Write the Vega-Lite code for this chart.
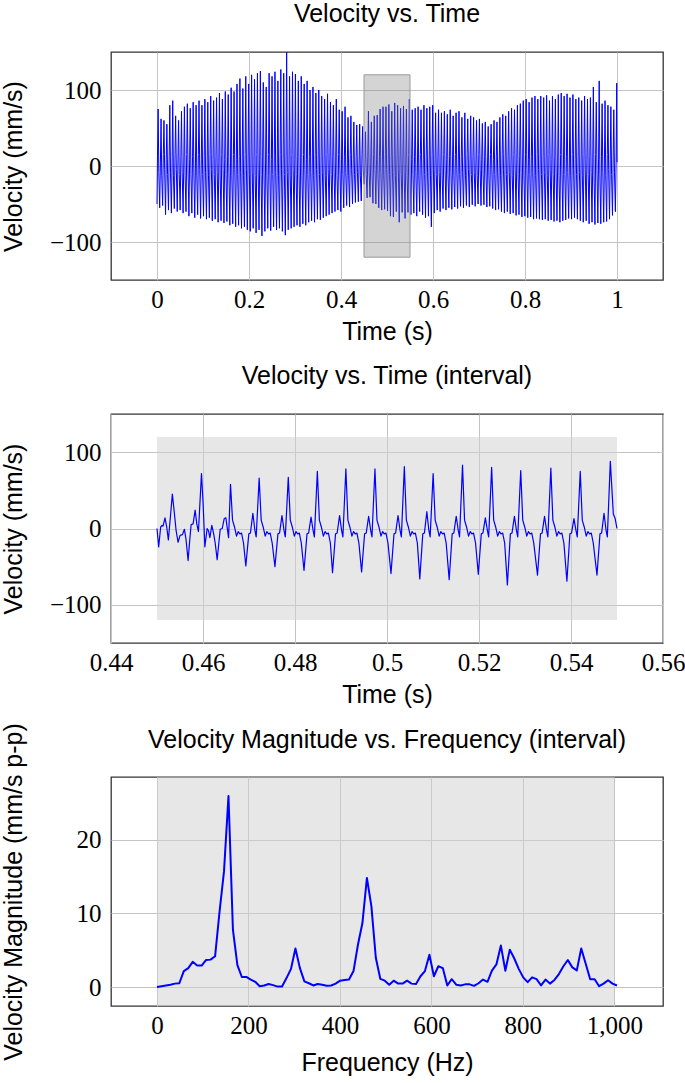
{
"$schema": "https://vega.github.io/schema/vega-lite/v6.json",
"background": "white",
"padding": {"top": 0, "left": 0, "right": 0, "bottom": 0},
"spacing": 134,
"bounds": "flush",
"datasets": {
"full": [{"t":0,"v":-50},{"t":0.00105,"v":12},{"t":0.00245,"v":75},{"t":0.00395,"v":-9},
{"t":0.0059,"v":-55},{"t":0.0074,"v":4},{"t":0.0088,"v":62},{"t":0.0103,"v":-13},
{"t":0.01225,"v":-52},{"t":0.01375,"v":15},{"t":0.01515,"v":60},{"t":0.01665,"v":-5},
{"t":0.0186,"v":-64},{"t":0.0201,"v":8},{"t":0.0215,"v":55},{"t":0.023,"v":-11},
{"t":0.02495,"v":-58},{"t":0.02645,"v":12},{"t":0.02785,"v":80},{"t":0.02935,"v":-9},
{"t":0.0313,"v":-62},{"t":0.0328,"v":4},{"t":0.0342,"v":86},{"t":0.0357,"v":-13},
{"t":0.03765,"v":-56},{"t":0.03915,"v":15},{"t":0.04055,"v":66},{"t":0.04205,"v":-5},
{"t":0.044,"v":-60},{"t":0.0455,"v":8},{"t":0.0469,"v":60},{"t":0.0484,"v":-11},
{"t":0.05035,"v":-58},{"t":0.05185,"v":12},{"t":0.05325,"v":72},{"t":0.05475,"v":-9},
{"t":0.0567,"v":-62},{"t":0.0582,"v":4},{"t":0.0596,"v":78},{"t":0.0611,"v":-13},
{"t":0.06305,"v":-60},{"t":0.06455,"v":15},{"t":0.06595,"v":82},{"t":0.06745,"v":-5},
{"t":0.0694,"v":-66},{"t":0.0709,"v":8},{"t":0.0723,"v":76},{"t":0.0738,"v":-11},
{"t":0.07575,"v":-62},{"t":0.07725,"v":12},{"t":0.07865,"v":84},{"t":0.08015,"v":-9},
{"t":0.0821,"v":-68},{"t":0.0836,"v":4},{"t":0.085,"v":80},{"t":0.0865,"v":-13},
{"t":0.08845,"v":-64},{"t":0.08995,"v":15},{"t":0.09135,"v":86},{"t":0.09285,"v":-5},
{"t":0.0948,"v":-69},{"t":0.0963,"v":8},{"t":0.0977,"v":80},{"t":0.0992,"v":-11},
{"t":0.10115,"v":-66},{"t":0.10265,"v":12},{"t":0.10405,"v":88},{"t":0.10555,"v":-9},
{"t":0.1075,"v":-70},{"t":0.109,"v":4},{"t":0.1104,"v":84},{"t":0.1119,"v":-13},
{"t":0.11385,"v":-68},{"t":0.11535,"v":15},{"t":0.11675,"v":92},{"t":0.11825,"v":-5},
{"t":0.1202,"v":-72},{"t":0.1217,"v":8},{"t":0.1231,"v":86},{"t":0.1246,"v":-11},
{"t":0.12655,"v":-70},{"t":0.12805,"v":12},{"t":0.12945,"v":90},{"t":0.13095,"v":-9},
{"t":0.1329,"v":-74},{"t":0.1344,"v":4},{"t":0.1358,"v":96},{"t":0.1373,"v":-13},
{"t":0.13925,"v":-72},{"t":0.14075,"v":15},{"t":0.14215,"v":88},{"t":0.14365,"v":-5},
{"t":0.1456,"v":-75},{"t":0.1471,"v":8},{"t":0.1485,"v":98},{"t":0.15,"v":-11},
{"t":0.15195,"v":-73},{"t":0.15345,"v":12},{"t":0.15485,"v":94},{"t":0.15635,"v":-9},
{"t":0.1583,"v":-78},{"t":0.1598,"v":4},{"t":0.1612,"v":103},{"t":0.1627,"v":-13},
{"t":0.16465,"v":-76},{"t":0.16615,"v":15},{"t":0.16755,"v":98},{"t":0.16905,"v":-5},
{"t":0.171,"v":-80},{"t":0.1725,"v":8},{"t":0.1739,"v":108},{"t":0.1754,"v":-11},
{"t":0.17735,"v":-78},{"t":0.17885,"v":12},{"t":0.18025,"v":115},{"t":0.18175,"v":-9},
{"t":0.1837,"v":-82},{"t":0.1852,"v":4},{"t":0.1866,"v":102},{"t":0.1881,"v":-13},
{"t":0.19005,"v":-80},{"t":0.19155,"v":15},{"t":0.19295,"v":118},{"t":0.19445,"v":-5},
{"t":0.1964,"v":-84},{"t":0.1979,"v":8},{"t":0.1993,"v":108},{"t":0.2008,"v":-11},
{"t":0.20275,"v":-86},{"t":0.20425,"v":12},{"t":0.20565,"v":120},{"t":0.20715,"v":-9},
{"t":0.2091,"v":-82},{"t":0.2106,"v":4},{"t":0.212,"v":114},{"t":0.2135,"v":-13},
{"t":0.21545,"v":-88},{"t":0.21695,"v":15},{"t":0.21835,"v":122},{"t":0.21985,"v":-5},
{"t":0.2218,"v":-84},{"t":0.2233,"v":8},{"t":0.2247,"v":125},{"t":0.2262,"v":-11},
{"t":0.22815,"v":-92},{"t":0.22965,"v":12},{"t":0.23105,"v":110},{"t":0.23255,"v":-9},
{"t":0.2345,"v":-86},{"t":0.236,"v":4},{"t":0.2374,"v":104},{"t":0.2389,"v":-13},
{"t":0.24085,"v":-82},{"t":0.24235,"v":15},{"t":0.24375,"v":122},{"t":0.24525,"v":-5},
{"t":0.2472,"v":-85},{"t":0.2487,"v":8},{"t":0.2501,"v":118},{"t":0.2516,"v":-11},
{"t":0.25355,"v":-80},{"t":0.25505,"v":12},{"t":0.25645,"v":124},{"t":0.25795,"v":-9},
{"t":0.2599,"v":-84},{"t":0.2614,"v":4},{"t":0.2628,"v":112},{"t":0.2643,"v":-13},
{"t":0.26625,"v":-82},{"t":0.26775,"v":15},{"t":0.26915,"v":127},{"t":0.27065,"v":-5},
{"t":0.2726,"v":-86},{"t":0.2741,"v":8},{"t":0.2755,"v":122},{"t":0.277,"v":-11},
{"t":0.27895,"v":-91},{"t":0.28045,"v":12},{"t":0.28185,"v":150},{"t":0.28335,"v":-9},
{"t":0.2853,"v":-84},{"t":0.2868,"v":4},{"t":0.2882,"v":118},{"t":0.2897,"v":-13},
{"t":0.29165,"v":-82},{"t":0.29315,"v":15},{"t":0.29455,"v":124},{"t":0.29605,"v":-5},
{"t":0.298,"v":-80},{"t":0.2995,"v":8},{"t":0.3009,"v":121},{"t":0.3024,"v":-11},
{"t":0.30435,"v":-78},{"t":0.30585,"v":12},{"t":0.30725,"v":112},{"t":0.30875,"v":-9},
{"t":0.3107,"v":-80},{"t":0.3122,"v":4},{"t":0.3136,"v":118},{"t":0.3151,"v":-13},
{"t":0.31705,"v":-76},{"t":0.31855,"v":15},{"t":0.31995,"v":108},{"t":0.32145,"v":-5},
{"t":0.3234,"v":-78},{"t":0.3249,"v":8},{"t":0.3263,"v":112},{"t":0.3278,"v":-11},
{"t":0.32975,"v":-74},{"t":0.33125,"v":12},{"t":0.33265,"v":100},{"t":0.33415,"v":-9},
{"t":0.3361,"v":-72},{"t":0.3376,"v":4},{"t":0.339,"v":104},{"t":0.3405,"v":-13},
{"t":0.34245,"v":-74},{"t":0.34395,"v":15},{"t":0.34535,"v":96},{"t":0.34685,"v":-5},
{"t":0.3488,"v":-70},{"t":0.3503,"v":8},{"t":0.3517,"v":100},{"t":0.3532,"v":-11},
{"t":0.35515,"v":-71},{"t":0.35665,"v":12},{"t":0.35805,"v":92},{"t":0.35955,"v":-9},
{"t":0.3615,"v":-68},{"t":0.363,"v":4},{"t":0.3644,"v":88},{"t":0.3659,"v":-13},
{"t":0.36785,"v":-66},{"t":0.36935,"v":15},{"t":0.37075,"v":95},{"t":0.37225,"v":-5},
{"t":0.3742,"v":-64},{"t":0.3757,"v":8},{"t":0.3771,"v":84},{"t":0.3786,"v":-11},
{"t":0.38055,"v":-62},{"t":0.38205,"v":12},{"t":0.38345,"v":80},{"t":0.38495,"v":-9},
{"t":0.3869,"v":-60},{"t":0.3884,"v":4},{"t":0.3898,"v":88},{"t":0.3913,"v":-13},
{"t":0.39325,"v":-58},{"t":0.39475,"v":15},{"t":0.39615,"v":74},{"t":0.39765,"v":-5},
{"t":0.3996,"v":-60},{"t":0.4011,"v":8},{"t":0.4025,"v":72},{"t":0.404,"v":-11},
{"t":0.40595,"v":-55},{"t":0.40745,"v":12},{"t":0.40885,"v":78},{"t":0.41035,"v":-9},
{"t":0.4123,"v":-52},{"t":0.4138,"v":4},{"t":0.4152,"v":64},{"t":0.4167,"v":-13},
{"t":0.41865,"v":-54},{"t":0.42015,"v":15},{"t":0.42155,"v":66},{"t":0.42305,"v":-5},
{"t":0.425,"v":-50},{"t":0.4265,"v":8},{"t":0.4279,"v":58},{"t":0.4294,"v":-11},
{"t":0.43135,"v":-48},{"t":0.43285,"v":12},{"t":0.43425,"v":54},{"t":0.43575,"v":-9},
{"t":0.4377,"v":-47},{"t":0.4392,"v":4},{"t":0.4406,"v":55},{"t":0.4421,"v":-13},
{"t":0.44405,"v":-46},{"t":0.44555,"v":15},{"t":0.44695,"v":52},{"t":0.44845,"v":-5},
{"t":0.4504,"v":-24},{"t":0.4519,"v":8},{"t":0.4533,"v":45},{"t":0.4548,"v":-11},
{"t":0.45675,"v":-42},{"t":0.45825,"v":12},{"t":0.45965,"v":72},{"t":0.46115,"v":-9},
{"t":0.4631,"v":-41},{"t":0.4646,"v":4},{"t":0.466,"v":58},{"t":0.4675,"v":-13},
{"t":0.46945,"v":-49},{"t":0.47095,"v":15},{"t":0.47235,"v":66},{"t":0.47385,"v":-5},
{"t":0.4758,"v":-50},{"t":0.4773,"v":8},{"t":0.4787,"v":67},{"t":0.4802,"v":-11},
{"t":0.48215,"v":-55},{"t":0.48365,"v":12},{"t":0.48505,"v":75},{"t":0.48655,"v":-9},
{"t":0.4885,"v":-58},{"t":0.49,"v":4},{"t":0.4914,"v":78},{"t":0.4929,"v":-13},
{"t":0.49485,"v":-57},{"t":0.49635,"v":15},{"t":0.49775,"v":78},{"t":0.49925,"v":-5},
{"t":0.5012,"v":-59},{"t":0.5027,"v":8},{"t":0.5041,"v":81},{"t":0.5056,"v":-11},
{"t":0.50755,"v":-66},{"t":0.50905,"v":12},{"t":0.51045,"v":72},{"t":0.51195,"v":-9},
{"t":0.5139,"v":-67},{"t":0.5154,"v":4},{"t":0.5168,"v":83},{"t":0.5183,"v":-13},
{"t":0.52025,"v":-60},{"t":0.52175,"v":15},{"t":0.52315,"v":80},{"t":0.52465,"v":-5},
{"t":0.5266,"v":-74},{"t":0.5281,"v":8},{"t":0.5295,"v":76},{"t":0.531,"v":-11},
{"t":0.53295,"v":-61},{"t":0.53445,"v":12},{"t":0.53585,"v":79},{"t":0.53735,"v":-9},
{"t":0.5393,"v":-69},{"t":0.5408,"v":4},{"t":0.5422,"v":75},{"t":0.5437,"v":-13},
{"t":0.54565,"v":-61},{"t":0.54715,"v":15},{"t":0.54855,"v":88},{"t":0.55005,"v":-5},
{"t":0.552,"v":-64},{"t":0.5535,"v":8},{"t":0.5549,"v":74},{"t":0.5564,"v":-11},
{"t":0.55835,"v":-62},{"t":0.55985,"v":12},{"t":0.56125,"v":76},{"t":0.56275,"v":-9},
{"t":0.5647,"v":-66},{"t":0.5662,"v":4},{"t":0.5676,"v":78},{"t":0.5691,"v":-13},
{"t":0.57105,"v":-60},{"t":0.57255,"v":15},{"t":0.57395,"v":74},{"t":0.57545,"v":-5},
{"t":0.5774,"v":-64},{"t":0.5789,"v":8},{"t":0.5803,"v":80},{"t":0.5818,"v":-11},
{"t":0.58375,"v":-68},{"t":0.58525,"v":12},{"t":0.58665,"v":76},{"t":0.58815,"v":-9},
{"t":0.5901,"v":-66},{"t":0.5916,"v":4},{"t":0.593,"v":78},{"t":0.5945,"v":-13},
{"t":0.59645,"v":-80},{"t":0.59795,"v":15},{"t":0.59935,"v":80},{"t":0.60085,"v":-5},
{"t":0.6028,"v":-62},{"t":0.6043,"v":8},{"t":0.6057,"v":70},{"t":0.6072,"v":-11},
{"t":0.60915,"v":-58},{"t":0.61065,"v":12},{"t":0.61205,"v":74},{"t":0.61355,"v":-9},
{"t":0.6155,"v":-60},{"t":0.617,"v":4},{"t":0.6184,"v":70},{"t":0.6199,"v":-13},
{"t":0.62185,"v":-56},{"t":0.62335,"v":15},{"t":0.62475,"v":72},{"t":0.62625,"v":-5},
{"t":0.6282,"v":-58},{"t":0.6297,"v":8},{"t":0.6311,"v":68},{"t":0.6326,"v":-11},
{"t":0.63455,"v":-55},{"t":0.63605,"v":12},{"t":0.63745,"v":74},{"t":0.63895,"v":-9},
{"t":0.6409,"v":-57},{"t":0.6424,"v":4},{"t":0.6438,"v":66},{"t":0.6453,"v":-13},
{"t":0.64725,"v":-54},{"t":0.64875,"v":15},{"t":0.65015,"v":70},{"t":0.65165,"v":-5},
{"t":0.6536,"v":-56},{"t":0.6551,"v":8},{"t":0.6565,"v":72},{"t":0.658,"v":-11},
{"t":0.65995,"v":-53},{"t":0.66145,"v":12},{"t":0.66285,"v":64},{"t":0.66435,"v":-9},
{"t":0.6663,"v":-55},{"t":0.6678,"v":4},{"t":0.6692,"v":70},{"t":0.6707,"v":-13},
{"t":0.67265,"v":-52},{"t":0.67415,"v":15},{"t":0.67555,"v":62},{"t":0.67705,"v":-5},
{"t":0.679,"v":-54},{"t":0.6805,"v":8},{"t":0.6819,"v":66},{"t":0.6834,"v":-11},
{"t":0.68535,"v":-51},{"t":0.68685,"v":12},{"t":0.68825,"v":64},{"t":0.68975,"v":-9},
{"t":0.6917,"v":-53},{"t":0.6932,"v":4},{"t":0.6946,"v":60},{"t":0.6961,"v":-13},
{"t":0.69805,"v":-50},{"t":0.69955,"v":15},{"t":0.70095,"v":62},{"t":0.70245,"v":-5},
{"t":0.7044,"v":-52},{"t":0.7059,"v":8},{"t":0.7073,"v":56},{"t":0.7088,"v":-11},
{"t":0.71075,"v":-51},{"t":0.71225,"v":12},{"t":0.71365,"v":58},{"t":0.71515,"v":-9},
{"t":0.7171,"v":-54},{"t":0.7186,"v":4},{"t":0.72,"v":52},{"t":0.7215,"v":-13},
{"t":0.72345,"v":-53},{"t":0.72495,"v":15},{"t":0.72635,"v":55},{"t":0.72785,"v":-5},
{"t":0.7298,"v":-56},{"t":0.7313,"v":8},{"t":0.7327,"v":60},{"t":0.7342,"v":-11},
{"t":0.73615,"v":-58},{"t":0.73765,"v":12},{"t":0.73905,"v":58},{"t":0.74055,"v":-9},
{"t":0.7425,"v":-57},{"t":0.744,"v":4},{"t":0.7454,"v":64},{"t":0.7469,"v":-13},
{"t":0.74885,"v":-60},{"t":0.75035,"v":15},{"t":0.75175,"v":68},{"t":0.75325,"v":-5},
{"t":0.7552,"v":-62},{"t":0.7567,"v":8},{"t":0.7581,"v":66},{"t":0.7596,"v":-11},
{"t":0.76155,"v":-60},{"t":0.76305,"v":12},{"t":0.76445,"v":72},{"t":0.76595,"v":-9},
{"t":0.7679,"v":-63},{"t":0.7694,"v":4},{"t":0.7708,"v":76},{"t":0.7723,"v":-13},
{"t":0.77425,"v":-62},{"t":0.77575,"v":15},{"t":0.77715,"v":74},{"t":0.77865,"v":-5},
{"t":0.7806,"v":-65},{"t":0.7821,"v":8},{"t":0.7835,"v":80},{"t":0.785,"v":-11},
{"t":0.78695,"v":-64},{"t":0.78845,"v":12},{"t":0.78985,"v":82},{"t":0.79135,"v":-9},
{"t":0.7933,"v":-67},{"t":0.7948,"v":4},{"t":0.7962,"v":86},{"t":0.7977,"v":-13},
{"t":0.79965,"v":-66},{"t":0.80115,"v":15},{"t":0.80255,"v":88},{"t":0.80405,"v":-5},
{"t":0.806,"v":-68},{"t":0.8075,"v":8},{"t":0.8089,"v":84},{"t":0.8104,"v":-11},
{"t":0.81235,"v":-67},{"t":0.81385,"v":12},{"t":0.81525,"v":90},{"t":0.81675,"v":-9},
{"t":0.8187,"v":-70},{"t":0.8202,"v":4},{"t":0.8216,"v":92},{"t":0.8231,"v":-13},
{"t":0.82505,"v":-69},{"t":0.82655,"v":15},{"t":0.82795,"v":88},{"t":0.82945,"v":-5},
{"t":0.8314,"v":-70},{"t":0.8329,"v":8},{"t":0.8343,"v":92},{"t":0.8358,"v":-11},
{"t":0.83775,"v":-71},{"t":0.83925,"v":12},{"t":0.84065,"v":90},{"t":0.84215,"v":-9},
{"t":0.8441,"v":-70},{"t":0.8456,"v":4},{"t":0.847,"v":93},{"t":0.8485,"v":-13},
{"t":0.85045,"v":-72},{"t":0.85195,"v":15},{"t":0.85335,"v":86},{"t":0.85485,"v":-5},
{"t":0.8568,"v":-71},{"t":0.8583,"v":8},{"t":0.8597,"v":92},{"t":0.8612,"v":-11},
{"t":0.86315,"v":-73},{"t":0.86465,"v":12},{"t":0.86605,"v":88},{"t":0.86755,"v":-9},
{"t":0.8695,"v":-72},{"t":0.871,"v":4},{"t":0.8724,"v":94},{"t":0.8739,"v":-13},
{"t":0.87585,"v":-74},{"t":0.87735,"v":15},{"t":0.87875,"v":96},{"t":0.88025,"v":-5},
{"t":0.8822,"v":-72},{"t":0.8837,"v":8},{"t":0.8851,"v":92},{"t":0.8866,"v":-11},
{"t":0.88855,"v":-71},{"t":0.89005,"v":12},{"t":0.89145,"v":95},{"t":0.89295,"v":-9},
{"t":0.8949,"v":-69},{"t":0.8964,"v":4},{"t":0.8978,"v":90},{"t":0.8993,"v":-13},
{"t":0.90125,"v":-70},{"t":0.90275,"v":15},{"t":0.90415,"v":94},{"t":0.90565,"v":-5},
{"t":0.9076,"v":-68},{"t":0.9091,"v":8},{"t":0.9105,"v":88},{"t":0.912,"v":-11},
{"t":0.91395,"v":-70},{"t":0.91545,"v":12},{"t":0.91685,"v":90},{"t":0.91835,"v":-9},
{"t":0.9203,"v":-72},{"t":0.9218,"v":4},{"t":0.9232,"v":86},{"t":0.9247,"v":-13},
{"t":0.92665,"v":-74},{"t":0.92815,"v":15},{"t":0.92955,"v":92},{"t":0.93105,"v":-5},
{"t":0.933,"v":-72},{"t":0.9345,"v":8},{"t":0.9359,"v":88},{"t":0.9374,"v":-11},
{"t":0.93935,"v":-76},{"t":0.94085,"v":12},{"t":0.94225,"v":90},{"t":0.94375,"v":-9},
{"t":0.9457,"v":-74},{"t":0.9472,"v":4},{"t":0.9486,"v":104},{"t":0.9501,"v":-13},
{"t":0.95205,"v":-77},{"t":0.95355,"v":15},{"t":0.95495,"v":84},{"t":0.95645,"v":-5},
{"t":0.9584,"v":-75},{"t":0.9599,"v":8},{"t":0.9613,"v":112},{"t":0.9628,"v":-11},
{"t":0.96475,"v":-76},{"t":0.96625,"v":12},{"t":0.96765,"v":82},{"t":0.96915,"v":-9},
{"t":0.9711,"v":-74},{"t":0.9726,"v":4},{"t":0.974,"v":86},{"t":0.9755,"v":-13},
{"t":0.97745,"v":-73},{"t":0.97895,"v":15},{"t":0.98035,"v":80},{"t":0.98185,"v":-5},
{"t":0.9838,"v":-70},{"t":0.9853,"v":8},{"t":0.9867,"v":78},{"t":0.9882,"v":-11},
{"t":0.99015,"v":-65},{"t":0.99165,"v":12},{"t":0.99305,"v":74},{"t":0.99455,"v":-9},
{"t":0.9965,"v":-60},{"t":0.998,"v":4},{"t":0.9994,"v":109},{"t":1,"v":5}],
"interval": [{"t":0.45,"v":0},{"t":0.45036,"v":-24},{"t":0.4508,"v":2},{"t":0.45109,"v":4},{"t":0.45131,"v":3},{"t":0.45174,"v":14},{"t":0.45211,"v":2},{"t":0.45247,"v":-15},{"t":0.45291,"v":15},{"t":0.45334,"v":45},{"t":0.45371,"v":24},{"t":0.45414,"v":-2},{"t":0.45458,"v":-18},{"t":0.45502,"v":-9},{"t":0.45553,"v":-8},{"t":0.45596,"v":-1},{"t":0.45632,"v":-15},{"t":0.45676,"v":-42},{"t":0.45712,"v":-15},{"t":0.45742,"v":5},{"t":0.45785,"v":6},{"t":0.45829,"v":24},{"t":0.45865,"v":6},{"t":0.45901,"v":-4},{"t":0.45967,"v":72},{"t":0.46003,"v":32},{"t":0.4604,"v":-24},{"t":0.4609,"v":0},{"t":0.4612,"v":-3},{"t":0.46149,"v":-12},{"t":0.46192,"v":4},{"t":0.46229,"v":-6},{"t":0.46265,"v":-19},
{"t":0.46308,"v":-41},{"t":0.46374,"v":-1},{"t":0.46418,"v":0},{"t":0.46461,"v":13},{"t":0.46497,"v":14},{"t":0.46556,"v":-12},{"t":0.46598,"v":58},{"t":0.46642,"v":11},{"t":0.46685,"v":2},{"t":0.46729,"v":-10},{"t":0.46766,"v":-4},{"t":0.46801,"v":-7},{"t":0.46838,"v":-6},{"t":0.46881,"v":-19},
{"t":0.46931,"v":-49},{"t":0.46996,"v":-7},{"t":0.47031,"v":-6},{"t":0.47084,"v":20},{"t":0.47127,"v":-2},{"t":0.47156,"v":-11},{"t":0.47221,"v":66},{"t":0.47265,"v":11},{"t":0.47308,"v":2},{"t":0.47352,"v":-10},{"t":0.47389,"v":-4},{"t":0.47424,"v":-7},{"t":0.47461,"v":-6},{"t":0.47504,"v":-19},
{"t":0.47564,"v":-50},{"t":0.47629,"v":-7},{"t":0.47664,"v":-6},{"t":0.47717,"v":17},{"t":0.4776,"v":-2},{"t":0.47789,"v":-11},{"t":0.47854,"v":67},{"t":0.47898,"v":11},{"t":0.47941,"v":2},{"t":0.47985,"v":-10},{"t":0.48022,"v":-4},{"t":0.48057,"v":-7},{"t":0.48094,"v":-6},{"t":0.48137,"v":-19},
{"t":0.48196,"v":-55},{"t":0.48261,"v":-7},{"t":0.48296,"v":-6},{"t":0.48349,"v":15},{"t":0.48392,"v":-2},{"t":0.48421,"v":-11},{"t":0.48486,"v":75},{"t":0.4853,"v":11},{"t":0.48573,"v":2},{"t":0.48617,"v":-10},{"t":0.48654,"v":-4},{"t":0.48689,"v":-7},{"t":0.48726,"v":-6},{"t":0.48769,"v":-19},
{"t":0.48816,"v":-58},{"t":0.48881,"v":-7},{"t":0.48916,"v":-6},{"t":0.48969,"v":17},{"t":0.49012,"v":-2},{"t":0.49041,"v":-11},{"t":0.49106,"v":78},{"t":0.4915,"v":11},{"t":0.49193,"v":2},{"t":0.49237,"v":-10},{"t":0.49274,"v":-4},{"t":0.49309,"v":-7},{"t":0.49346,"v":-6},{"t":0.49389,"v":-19},
{"t":0.49448,"v":-57},{"t":0.49513,"v":-7},{"t":0.49548,"v":-6},{"t":0.49601,"v":16},{"t":0.49644,"v":-2},{"t":0.49673,"v":-11},{"t":0.49738,"v":78},{"t":0.49782,"v":11},{"t":0.49825,"v":2},{"t":0.49869,"v":-10},{"t":0.49906,"v":-4},{"t":0.49941,"v":-7},{"t":0.49978,"v":-6},{"t":0.50021,"v":-19},
{"t":0.50087,"v":-59},{"t":0.50152,"v":-7},{"t":0.50187,"v":-6},{"t":0.5024,"v":17},{"t":0.50283,"v":-2},{"t":0.50312,"v":-11},{"t":0.50377,"v":81},{"t":0.50421,"v":11},{"t":0.50464,"v":2},{"t":0.50508,"v":-10},{"t":0.50545,"v":-4},{"t":0.5058,"v":-7},{"t":0.50617,"v":-6},{"t":0.5066,"v":-19},
{"t":0.50713,"v":-66},{"t":0.50778,"v":-7},{"t":0.50813,"v":-6},{"t":0.50866,"v":22},{"t":0.50909,"v":-2},{"t":0.50938,"v":-11},{"t":0.51003,"v":72},{"t":0.51047,"v":11},{"t":0.5109,"v":2},{"t":0.51134,"v":-10},{"t":0.51171,"v":-4},{"t":0.51206,"v":-7},{"t":0.51243,"v":-6},{"t":0.51286,"v":-19},
{"t":0.51352,"v":-67},{"t":0.51417,"v":-7},{"t":0.51452,"v":-6},{"t":0.51505,"v":16},{"t":0.51548,"v":-2},{"t":0.51577,"v":-11},{"t":0.51642,"v":83},{"t":0.51686,"v":11},{"t":0.51729,"v":2},{"t":0.51773,"v":-10},{"t":0.5181,"v":-4},{"t":0.51845,"v":-7},{"t":0.51882,"v":-6},{"t":0.51925,"v":-19},
{"t":0.51985,"v":-60},{"t":0.5205,"v":-7},{"t":0.52085,"v":-6},{"t":0.52138,"v":14},{"t":0.52181,"v":-2},{"t":0.5221,"v":-11},{"t":0.52275,"v":80},{"t":0.52319,"v":11},{"t":0.52362,"v":2},{"t":0.52406,"v":-10},{"t":0.52443,"v":-4},{"t":0.52478,"v":-7},{"t":0.52515,"v":-6},{"t":0.52558,"v":-19},
{"t":0.52617,"v":-74},{"t":0.52682,"v":-7},{"t":0.52717,"v":-6},{"t":0.5277,"v":16},{"t":0.52813,"v":-2},{"t":0.52842,"v":-11},{"t":0.52907,"v":76},{"t":0.52951,"v":11},{"t":0.52994,"v":2},{"t":0.53038,"v":-10},{"t":0.53075,"v":-4},{"t":0.5311,"v":-7},{"t":0.53147,"v":-6},{"t":0.5319,"v":-19},
{"t":0.53272,"v":-61},{"t":0.53337,"v":-7},{"t":0.53372,"v":-6},{"t":0.53425,"v":16},{"t":0.53468,"v":-2},{"t":0.53497,"v":-11},{"t":0.53562,"v":79},{"t":0.53606,"v":11},{"t":0.53649,"v":2},{"t":0.53693,"v":-10},{"t":0.5373,"v":-4},{"t":0.53765,"v":-7},{"t":0.53802,"v":-6},{"t":0.53845,"v":-19},
{"t":0.53911,"v":-69},{"t":0.53976,"v":-7},{"t":0.54011,"v":-6},{"t":0.54064,"v":13},{"t":0.54107,"v":-2},{"t":0.54136,"v":-11},{"t":0.54201,"v":75},{"t":0.54245,"v":11},{"t":0.54288,"v":2},{"t":0.54332,"v":-10},{"t":0.54369,"v":-4},{"t":0.54404,"v":-7},{"t":0.54441,"v":-6},{"t":0.54484,"v":-19},
{"t":0.54565,"v":-61},{"t":0.5463,"v":-7},{"t":0.54665,"v":-6},{"t":0.54718,"v":20},{"t":0.54761,"v":-2},{"t":0.5479,"v":-11},{"t":0.54855,"v":88},{"t":0.5492,"v":19},{"t":0.5496,"v":13},{"t":0.55,"v":0}],
"fft": [{"f":0,"m":0.05},{"f":9.8,"m":0.15},{"f":19.5,"m":0.25},{"f":29.3,"m":0.35},{"f":39.1,"m":0.5},{"f":48.8,"m":0.55},{"f":58.6,"m":2.2},{"f":68.4,"m":2.6},{"f":78.1,"m":3.45},{"f":87.9,"m":2.95},{"f":97.7,"m":2.95},{"f":107.4,"m":3.7},{"f":117.2,"m":3.75},{"f":127,"m":4.2},{"f":136.7,"m":10.2},{"f":146.5,"m":15.7},{"f":156.3,"m":25.9},{"f":166,"m":7.8},{"f":175.8,"m":3.0},{"f":185.5,"m":1.4},{"f":195.3,"m":1.4},{"f":205.1,"m":1.05},{"f":214.8,"m":0.75},{"f":224.6,"m":0.15},{"f":234.4,"m":0.25},{"f":244.1,"m":0.45},{"f":253.9,"m":0.3},{"f":263.7,"m":0.1},{"f":273.4,"m":0.1},{"f":283.2,"m":1.25},{"f":293,"m":2.5},{"f":302.7,"m":5.25},{"f":312.5,"m":2.6},{"f":322.3,"m":0.8},{"f":332,"m":0.55},{"f":341.8,"m":0.25},{"f":351.6,"m":0.45},{"f":361.3,"m":0.35},{"f":371.1,"m":0.2},{"f":380.9,"m":0.25},{"f":390.6,"m":0.5},{"f":400.4,"m":0.9},{"f":410.2,"m":1.0},{"f":419.9,"m":1.05},{"f":429.7,"m":2.2},{"f":439.5,"m":5.8},{"f":449.2,"m":8.7},{"f":459,"m":14.8},{"f":468.8,"m":11.0},{"f":478.5,"m":4.0},{"f":488.3,"m":1.15},{"f":498.1,"m":0.9},{"f":507.8,"m":0.35},{"f":517.6,"m":0.9},{"f":527.3,"m":0.5},{"f":537.1,"m":0.5},{"f":546.9,"m":0.9},{"f":556.6,"m":0.5},{"f":566.4,"m":0.45},{"f":576.2,"m":1.5},{"f":585.9,"m":2.2},{"f":595.7,"m":4.4},{"f":605.5,"m":1.5},{"f":615.2,"m":2.85},{"f":625,"m":2.6},{"f":634.8,"m":0.25},{"f":644.5,"m":1.1},{"f":654.3,"m":0.35},{"f":664.1,"m":0.25},{"f":673.8,"m":0.4},{"f":683.6,"m":0.4},{"f":693.4,"m":0.2},{"f":703.1,"m":0.55},{"f":712.9,"m":1.05},{"f":722.7,"m":0.75},{"f":732.4,"m":2.25},{"f":742.2,"m":3.1},{"f":752,"m":5.65},{"f":761.7,"m":2.25},{"f":771.5,"m":5.1},{"f":781.3,"m":3.9},{"f":791,"m":2.5},{"f":800.8,"m":1.35},{"f":810.5,"m":0.7},{"f":820.3,"m":1.35},{"f":830.1,"m":1.1},{"f":839.8,"m":0.25},{"f":849.6,"m":1.05},{"f":859.4,"m":0.5},{"f":869.1,"m":1.0},{"f":878.9,"m":1.8},{"f":888.7,"m":2.85},{"f":898.4,"m":3.7},{"f":908.2,"m":2.7},{"f":918,"m":2.3},{"f":927.7,"m":5.25},{"f":937.5,"m":3.2},{"f":947.3,"m":1.1},{"f":957,"m":1.1},{"f":966.8,"m":0.15},{"f":976.6,"m":0.5},{"f":986.3,"m":0.95},{"f":996.1,"m":0.5},{"f":1005.9,"m":0.25}],
"box1": [{"x0":0.45,"x1":0.55,"y0":-120,"y1":120}],
"box3": [{"x0":0,"x1":1000,"y0":-120,"y1":120}]
},
"config": {
  "font": "Liberation Sans",
  "view": {"stroke": "#333333", "strokeWidth": 1.3},
  "axis": {"grid": true, "gridColor": "#c4c4c4", "gridWidth": 1, "domain": false, "ticks": false, "labelFont": "Liberation Serif", "labelFontSize": 25, "labelColor": "#000000", "titleFont": "Liberation Sans", "titleFontSize": 25, "titleFontWeight": "normal", "titleColor": "#000000", "labelFlush": false},
  "axisX": {"labelPadding": 7, "titlePadding": 7},
  "axisY": {"labelPadding": 10, "titlePadding": 23, "minExtent": 62, "maxExtent": 62},
  "title": {"font": "Liberation Sans", "fontSize": 25, "fontWeight": "normal", "color": "#000000", "offset": 25, "frame": "group", "anchor": "middle"}
},
"vconcat": [
{
  "width": 552, "height": 228,
  "title": {"text": "Velocity vs. Time"},
  "layer": [
    {"data": {"name": "full"},
     "mark": {"type": "line", "color": "#0000ff", "strokeWidth": 1, "strokeJoin": "round"},
     "encoding": {
       "x": {"field": "t", "type": "quantitative", "scale": {"domain": [-0.1, 1.1], "nice": false, "zero": false}, "axis": {"title": "Time (s)", "values": [0, 0.2, 0.4, 0.6, 0.8, 1], "format": "~f"}},
       "y": {"field": "v", "type": "quantitative", "scale": {"domain": [-150, 150], "nice": false, "zero": false}, "axis": {"title": "Velocity (mm/s)", "values": [-100, 0, 100], "format": "~f"}}
     }},
    {"data": {"name": "box1"},
     "mark": {"type": "rect", "fill": "#808080", "fillOpacity": 0.34, "stroke": "#9a9a9a", "strokeWidth": 1},
     "encoding": {
       "x": {"field": "x0", "type": "quantitative"}, "x2": {"field": "x1"},
       "y": {"field": "y0", "type": "quantitative"}, "y2": {"field": "y1"}
     }}
  ]
},
{
  "width": 552, "height": 229,
  "title": {"text": "Velocity vs. Time (interval)"},
  "layer": [
    {"data": {"name": "box1"},
     "mark": {"type": "rect", "fill": "#d0d0d0", "fillOpacity": 0.5},
     "encoding": {
       "x": {"field": "x0", "type": "quantitative", "scale": {"domain": [0.44, 0.56], "nice": false, "zero": false}, "axis": {"title": "Time (s)", "values": [0.44, 0.46, 0.48, 0.5, 0.52, 0.54, 0.56], "format": "~f"}},
       "x2": {"field": "x1"},
       "y": {"field": "y0", "type": "quantitative", "scale": {"domain": [-150, 150], "nice": false, "zero": false}, "axis": {"title": "Velocity (mm/s)", "values": [-100, 0, 100], "format": "~f"}},
       "y2": {"field": "y1"}
     }},
    {"data": {"name": "interval"},
     "mark": {"type": "line", "color": "#0000ff", "strokeWidth": 1.2, "strokeJoin": "round"},
     "encoding": {
       "x": {"field": "t", "type": "quantitative"},
       "y": {"field": "v", "type": "quantitative"}
     }}
  ]
},
{
  "width": 552, "height": 229,
  "title": {"text": "Velocity Magnitude vs. Frequency (interval)", "offset": -30},
  "layer": [
    {"data": {"name": "box3"},
     "mark": {"type": "rect", "fill": "#d0d0d0", "fillOpacity": 0.5, "clip": true},
     "encoding": {
       "x": {"field": "x0", "type": "quantitative", "scale": {"domain": [-100.6, 1106.5], "nice": false, "zero": false}, "axis": {"title": "Frequency (Hz)", "values": [0, 200, 400, 600, 800, 1000], "format": ",~f", "titlePadding": 12}},
       "x2": {"field": "x1"},
       "y": {"field": "y0", "type": "quantitative", "scale": {"domain": [-2.53, 28.48], "nice": false, "zero": false}, "axis": {"title": "Velocity Magnitude (mm/s p-p)", "values": [0, 10, 20], "format": "~f"}},
       "y2": {"field": "y1"}
     }},
    {"data": {"name": "fft"},
     "mark": {"type": "line", "color": "#0000ff", "strokeWidth": 2, "strokeJoin": "round"},
     "encoding": {
       "x": {"field": "f", "type": "quantitative"},
       "y": {"field": "m", "type": "quantitative"}
     }}
  ]
}
]
}
